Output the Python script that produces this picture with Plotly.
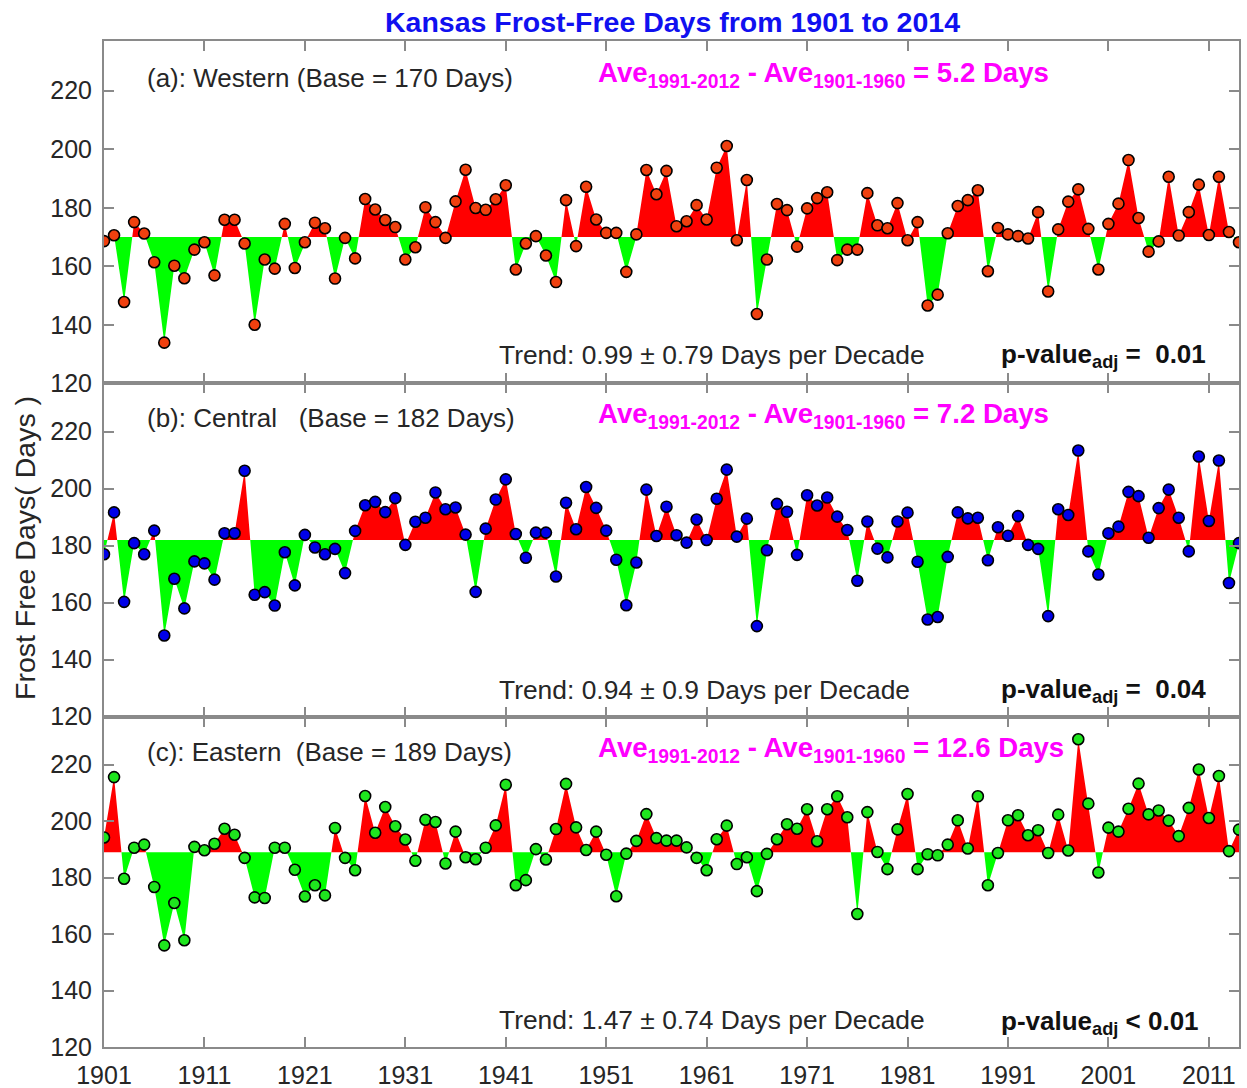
import plotly.graph_objects as go

years = list(range(1901, 2015))

west = [168.6,170.6,147.8,175.1,171.2,161.4,133.9,160.2,155.9,165.7,
        168.2,156.9,175.9,175.9,167.8,140.0,162.3,159.2,174.5,159.4,
        168.2,174.9,173.0,155.8,169.7,162.7,183.0,179.4,175.8,173.4,
        162.3,166.5,180.2,175.1,169.7,182.2,193.0,179.9,179.3,182.9,
        187.7,158.9,167.8,170.3,163.7,154.6,182.6,166.9,187.2,176.0,
        171.4,171.4,158.1,170.9,192.9,184.6,192.6,173.7,175.4,180.9,
        176.0,193.7,201.1,168.9,189.5,143.7,162.3,181.3,179.2,166.7,
        179.8,183.3,185.3,162.1,165.7,165.7,185.0,174.0,173.0,181.6,
        168.9,175.1,146.6,150.3,171.3,180.6,182.6,186.0,158.3,173.1,
        170.9,170.3,169.5,178.5,151.4,172.6,182.1,186.3,172.8,158.9,
        174.5,181.4,196.3,176.5,165.0,168.5,190.6,170.5,178.5,187.9,
        170.7,190.6,171.7,168.2]

central = [177.0,191.7,160.3,180.9,177.0,185.3,148.5,168.4,158.0,174.5,
           173.8,168.1,184.4,184.4,206.3,162.8,163.7,159.0,177.7,166.1,
           183.8,179.4,177.0,178.9,170.4,185.2,194.2,195.4,191.8,196.7,
           180.3,188.4,189.8,198.7,192.8,193.4,183.9,163.8,186.0,196.2,
           203.3,184.1,175.8,184.6,184.6,169.2,195.1,185.8,200.6,193.3,
           185.3,175.1,159.1,174.1,199.7,183.4,193.7,183.7,181.1,189.2,
           182.0,196.5,206.7,183.2,189.5,151.8,178.4,194.7,191.9,176.8,
           197.7,194.1,196.9,190.2,185.5,167.7,188.5,179.0,175.9,188.5,
           191.6,174.4,154.1,155.0,176.1,191.7,189.6,189.8,174.9,186.5,
           183.5,190.4,180.3,178.9,155.3,192.8,190.8,213.4,178.0,169.9,
           184.4,186.7,198.9,197.4,182.8,193.2,199.7,189.8,178.0,211.3,
           188.7,209.9,166.9,180.9]

eastern = [194.2,215.6,179.6,190.6,191.7,176.7,156.0,171.0,157.8,190.9,
           189.7,192.0,197.3,195.2,187.0,173.0,172.8,190.6,190.6,182.8,
           173.3,177.3,173.7,197.6,187.0,182.6,208.9,195.9,205.0,198.2,
           193.5,186.0,200.5,199.7,185.0,196.3,187.2,186.5,190.6,198.5,
           212.9,177.3,179.1,190.1,186.4,197.2,213.2,197.8,189.8,196.3,
           188.1,173.4,188.5,193.0,202.5,194.0,193.1,193.1,190.7,187.0,
           182.6,193.6,198.4,184.8,187.2,175.2,188.4,193.6,198.9,197.3,
           204.2,192.9,204.2,208.8,201.4,167.1,203.2,189.1,183.0,197.1,
           209.6,183.0,188.3,187.9,191.7,200.3,190.3,208.8,177.3,188.7,
           200.3,202.1,195.0,196.8,188.7,202.3,189.6,229.0,206.2,181.8,
           197.7,196.3,204.4,213.3,202.4,203.8,200.2,194.7,204.7,218.3,
           201.1,216.0,189.4,197.0]

bases = [170, 182, 189]
region_labels = ["(a): Western (Base = 170 Days)",
                 "(b): Central   (Base = 182 Days)",
                 "(c): Eastern  (Base = 189 Days)"]
ave_diff = ["5.2", "7.2", "12.6"]
trend_text = ["Trend: 0.99 \u00b1 0.79 Days per Decade",
              "Trend: 0.94 \u00b1 0.9 Days per Decade",
              "Trend: 1.47 \u00b1 0.74 Days per Decade"]
pval_text = ["=  0.01", "=  0.04", "< 0.01"]
marker_colors = ["#F0400F", "#0000E8", "#1EE61E"]
x_tick_vals = list(range(1901, 2012, 10))
y_tick_vals = [120, 140, 160, 180, 200, 220]

FONT = "Liberation Sans, Arial, Helvetica, sans-serif"

W, H = 1247, 1088
L, R, T, B = 104, 1239, 41, 1047
def px(x):
    return (x - L) / (R - L)
def py(y):
    return (B - y) / (B - T)

domains = [[py(383.3), 1.0], [py(716.7), py(383.3)], [0.0, py(716.7)]]

def split_at_base(x, y, base):
    xs, ys = [], []
    for i in range(len(x)):
        if i > 0:
            a, b = y[i - 1] - base, y[i] - base
            if a * b < 0:
                t = a / (a - b)
                xs.append(x[i - 1] + t * (x[i] - x[i - 1]))
                ys.append(base)
        xs.append(x[i])
        ys.append(y[i])
    return xs, ys

fig = go.Figure()
series = [west, central, eastern]
for k, (vals, base) in enumerate(zip(series, bases)):
    xa = "x" if k == 0 else f"x{k+1}"
    ya = "y" if k == 0 else f"y{k+1}"
    xs, ys = split_at_base(years, vals, base)
    pos = [max(v, base) for v in ys]
    neg = [min(v, base) for v in ys]
    fig.add_trace(go.Scatter(x=xs + xs[::-1], y=pos + [base] * len(xs), fill="toself",
                             fillcolor="#FF0000", mode="lines", line=dict(width=0),
                             hoverinfo="skip", showlegend=False, xaxis=xa, yaxis=ya))
    fig.add_trace(go.Scatter(x=xs + xs[::-1], y=neg + [base] * len(xs), fill="toself",
                             fillcolor="#00FF00", mode="lines", line=dict(width=0),
                             hoverinfo="skip", showlegend=False, xaxis=xa, yaxis=ya))
    fig.add_trace(go.Scatter(x=years, y=vals, mode="markers",
                             marker=dict(size=11, color=marker_colors[k],
                                         line=dict(color="black", width=1.6)),
                             showlegend=False, xaxis=xa, yaxis=ya))

axis_common = dict(showline=True, linecolor="#8a8a8a", linewidth=2, mirror="allticks",
                   ticks="inside", ticklen=10, tickwidth=1.5, tickcolor="#8a8a8a",
                   showgrid=False, zeroline=False, automargin=False,
                   tickfont=dict(family=FONT, size=25, color="#262626"))

layout = dict(width=W, height=H, margin=dict(l=L, r=W - R, t=T, b=H - B, autoexpand=False),
              plot_bgcolor="white", paper_bgcolor="white", showlegend=False)
for k in range(3):
    xk = "xaxis" if k == 0 else f"xaxis{k+1}"
    yk = "yaxis" if k == 0 else f"yaxis{k+1}"
    ya = "y" if k == 0 else f"y{k+1}"
    xa = "x" if k == 0 else f"x{k+1}"
    layout[xk] = dict(axis_common, range=[1901, 2014], tickvals=x_tick_vals,
                      showticklabels=(k == 2), anchor=ya, domain=[0, 1],
                      ticklabelstandoff=5)
    if k < 2:
        layout[xk]["matches"] = "x3"
    layout[yk] = dict(axis_common, range=[120, 237], tickvals=y_tick_vals,
                      anchor=xa, domain=domains[k], ticklabelstandoff=5)
fig.update_layout(**layout)

ann = []
label_y = [78, 418, 752]
mag_y = [75, 415, 749]
trend_y = [355, 690, 1020]
pval_y = [356, 691, 1022]
for k in range(3):
    ann.append(dict(x=px(145), y=py(label_y[k]), xref="paper", yref="paper",
                    text=region_labels[k], showarrow=False, xanchor="left", yanchor="middle",
                    font=dict(family=FONT, size=26, color="#262626")))
    ann.append(dict(x=px(596), y=py(mag_y[k]), xref="paper", yref="paper",
                    text=f"<b>Ave<sub>1991-2012</sub> - Ave<sub>1901-1960</sub> = {ave_diff[k]} Days</b>",
                    showarrow=False, xanchor="left", yanchor="middle",
                    font=dict(family=FONT, size=27.6, color="#FF00FF")))
    ann.append(dict(x=px(497), y=py(trend_y[k]), xref="paper", yref="paper",
                    text=trend_text[k], showarrow=False, xanchor="left", yanchor="middle",
                    font=dict(family=FONT, size=26.4, color="#262626")))
    ann.append(dict(x=px(999), y=py(pval_y[k]), xref="paper", yref="paper",
                    text=f"<b>p-value<sub>adj</sub> {pval_text[k]}</b>",
                    showarrow=False, xanchor="left", yanchor="middle",
                    font=dict(family=FONT, size=26, color="#111111")))

ann.append(dict(x=px(672), y=py(22), xref="paper", yref="paper",
                text="<b>Kansas Frost-Free Days from 1901 to 2014</b>", showarrow=False,
                xanchor="center", yanchor="middle",
                font=dict(family=FONT, size=28.5, color="#1010F0")))
ann.append(dict(x=px(25), y=py(548), xref="paper", yref="paper",
                text="Frost Free Days( Days )", showarrow=False, textangle=-90,
                xanchor="center", yanchor="middle",
                font=dict(family=FONT, size=28.5, color="#262626")))
fig.update_layout(annotations=ann)

fig.write_html("out.html", config={"displayModeBar": False},
               post_script="document.body.style.margin='0px';")
